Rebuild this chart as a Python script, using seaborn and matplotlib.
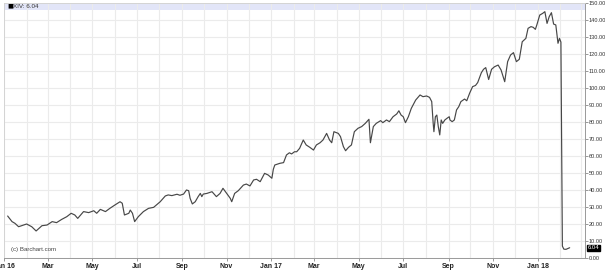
import numpy as np
import pandas as pd
import matplotlib
matplotlib.use("Agg")
import matplotlib.pyplot as plt
import matplotlib.dates as mdates
import matplotlib.ticker as mticker
import seaborn as sns

# ---- data ----
dates = [
    "2016-01-06", "2016-01-12", "2016-01-16", "2016-01-21", "2016-01-28", "2016-02-01",
    "2016-02-08", "2016-02-14", "2016-02-22", "2016-02-29", "2016-03-07", "2016-03-13",
    "2016-03-20", "2016-03-27", "2016-04-02", "2016-04-07", "2016-04-11", "2016-04-19",
    "2016-04-26", "2016-05-03", "2016-05-07", "2016-05-12", "2016-05-19", "2016-05-25",
    "2016-06-01", "2016-06-08", "2016-06-11", "2016-06-14", "2016-06-20", "2016-06-22",
    "2016-06-25", "2016-06-28", "2016-07-03", "2016-07-10", "2016-07-17", "2016-07-24",
    "2016-08-02", "2016-08-09", "2016-08-13", "2016-08-18", "2016-08-25", "2016-08-29",
    "2016-09-03", "2016-09-07", "2016-09-10", "2016-09-12", "2016-09-15", "2016-09-19",
    "2016-09-23", "2016-09-26", "2016-09-28", "2016-09-30", "2016-10-05", "2016-10-12",
    "2016-10-18", "2016-10-23", "2016-10-27", "2016-11-01", "2016-11-06", "2016-11-08",
    "2016-11-12", "2016-11-17", "2016-11-24", "2016-11-28", "2016-12-03", "2016-12-08",
    "2016-12-12", "2016-12-17", "2016-12-23", "2016-12-28", "2017-01-02", "2017-01-04",
    "2017-01-06", "2017-01-13", "2017-01-18", "2017-01-22", "2017-01-26", "2017-01-29",
    "2017-02-02", "2017-02-05", "2017-02-09", "2017-02-14", "2017-02-18", "2017-02-23",
    "2017-02-28", "2017-03-04", "2017-03-09", "2017-03-13", "2017-03-18", "2017-03-22",
    "2017-03-25", "2017-03-28", "2017-04-03", "2017-04-06", "2017-04-10", "2017-04-13",
    "2017-04-17", "2017-04-21", "2017-04-25", "2017-04-30", "2017-05-05", "2017-05-10",
    "2017-05-15", "2017-05-17", "2017-05-21", "2017-05-25", "2017-05-31", "2017-06-03",
    "2017-06-08", "2017-06-12", "2017-06-17", "2017-06-22", "2017-06-25", "2017-06-28",
    "2017-07-01", "2017-07-04", "2017-07-08", "2017-07-12", "2017-07-18", "2017-07-24",
    "2017-07-28", "2017-08-02", "2017-08-06", "2017-08-09", "2017-08-11", "2017-08-12",
    "2017-08-14", "2017-08-16", "2017-08-18", "2017-08-20", "2017-08-22", "2017-08-24",
    "2017-08-27", "2017-08-30", "2017-09-02", "2017-09-03", "2017-09-06", "2017-09-09",
    "2017-09-12", "2017-09-15", "2017-09-18", "2017-09-23", "2017-09-26", "2017-09-30",
    "2017-10-04", "2017-10-08", "2017-10-11", "2017-10-16", "2017-10-19", "2017-10-22",
    "2017-10-26", "2017-10-30", "2017-11-03", "2017-11-08", "2017-11-12", "2017-11-17",
    "2017-11-21", "2017-11-25", "2017-11-29", "2017-12-03", "2017-12-07", "2017-12-11",
    "2017-12-16", "2017-12-19", "2017-12-23", "2017-12-26", "2017-12-29", "2017-12-31",
    "2018-01-04", "2018-01-08", "2018-01-11", "2018-01-14", "2018-01-17", "2018-01-20",
    "2018-01-23", "2018-01-26", "2018-01-29", "2018-01-31", "2018-02-02", "2018-02-04",
    "2018-02-06", "2018-02-09", "2018-02-14",
]
xiv_close = [
    24.7, 21.4, 20.4, 18.4, 19.4, 20.0,
    18.4, 15.9, 19.0, 19.4, 21.4, 20.8,
    22.7, 24.3, 26.3, 25.3, 23.3, 27.3,
    26.7, 27.8, 26.3, 28.6, 27.3, 29.2,
    31.2, 33.1, 32.2, 25.3, 26.3, 28.2,
    26.3, 21.4, 24.3, 27.3, 29.2, 29.8,
    33.1, 36.5, 37.1, 36.7, 37.5, 36.9,
    37.6, 40.0, 39.6, 35.1, 31.8, 33.1,
    36.1, 38.0, 36.1, 37.6, 38.0, 39.0,
    36.1, 38.0, 41.0, 38.0, 35.1, 33.1,
    38.0, 39.6, 42.9, 43.5, 42.4, 45.9,
    46.3, 44.9, 49.8, 48.8, 46.9, 52.2,
    54.7, 55.7, 56.1, 60.6, 61.9, 61.2,
    62.5, 62.5, 64.5, 69.4, 66.5, 65.1,
    63.5, 66.5, 67.8, 69.4, 73.3, 69.4,
    67.8, 74.3, 73.3, 71.4, 65.5, 63.1,
    65.1, 66.5, 74.3, 76.3, 77.3, 79.2,
    81.6, 67.8, 77.3, 79.2, 80.8, 79.6,
    81.2, 80.2, 83.1, 84.7, 86.6, 84.1,
    83.1, 79.6, 83.1, 88.0, 92.9, 95.9,
    94.9, 95.3, 94.5, 92.0, 79.2, 74.3,
    83.1, 84.1, 77.3, 72.4, 81.2, 79.2,
    81.2, 82.2, 83.1, 81.2, 80.2, 81.2,
    87.1, 89.0, 92.0, 93.5, 92.5, 97.0,
    100.8, 101.5, 103.2, 109.0, 111.0, 112.0,
    105.0, 111.0, 112.5, 113.5, 110.6, 103.7,
    115.5, 119.4, 120.8, 115.5, 116.9, 127.2,
    129.2, 135.1, 136.1, 135.7, 134.5, 137.1,
    142.9, 143.9, 144.9, 138.0, 142.0, 144.3,
    137.6, 137.1, 126.3, 129.2, 127.0, 7.0,
    5.2, 5.1, 6.04,
]
y_ticks = [0, 10, 20, 30, 40, 50, 60, 70, 80, 90, 100, 110, 120, 130, 140, 150]
x_tick_dates = ["2016-01-01", "2016-03-01", "2016-05-01", "2016-07-01", "2016-09-01",
                "2016-11-01", "2017-01-01", "2017-03-01", "2017-05-01", "2017-07-01",
                "2017-09-01", "2017-11-01", "2018-01-01"]
x_tick_labels = ["Jan 16", "Mar", "May", "Jul", "Sep", "Nov", "Jan 17", "Mar", "May",
                 "Jul", "Sep", "Nov", "Jan 18"]
series_name = "XIV"
last_value = 6.04
credit = "(c) Barchart.com"

df = pd.DataFrame({"date": pd.to_datetime(dates), "value": xiv_close})

# ---- figure ----
sns.set_style("white")
plt.rcParams["font.family"] = ["Liberation Sans", "DejaVu Sans"]
fig = plt.figure(figsize=(6.05, 2.74), dpi=100)
ax = fig.add_axes([4 / 605, 16 / 274, 581 / 605, 255 / 274])

ax.axhspan(145.8, 150, color="#e2e5f8", zorder=0, lw=0)

sns.lineplot(data=df, x="date", y="value", ax=ax, color="#474747", linewidth=0.85, zorder=3)

ax.set_xlim(pd.Timestamp("2016-01-01"), pd.Timestamp("2018-03-07"))
ax.set_ylim(0, 150)
ax.set_xlabel("")
ax.set_ylabel("")

# grid
ax.xaxis.set_minor_locator(mdates.MonthLocator())
ax.set_xticks(pd.to_datetime(x_tick_dates))
ax.set_xticklabels(x_tick_labels)
ax.grid(True, which="both", axis="x", color="#ebebeb", linewidth=0.8, zorder=1)
ax.set_yticks(y_ticks)
ax.grid(True, which="major", axis="y", color="#ebebeb", linewidth=0.8, zorder=1)

ax.yaxis.tick_right()
ax.yaxis.set_major_formatter(mticker.FormatStrFormatter("%.2f"))
ax.tick_params(axis="y", which="major", direction="out", length=2, width=0.6,
               color="#888888", labelsize=4.1, labelcolor="#333333", pad=0.8, right=True, left=False)
ax.tick_params(axis="x", which="major", direction="out", length=2, width=0.6,
               color="#888888", labelsize=5.0, labelcolor="#222222", pad=1.5, bottom=True)
ax.tick_params(axis="x", which="minor", length=0)
for lab in ax.get_xticklabels():
    lab.set_fontweight("bold")

for s in ["top", "left"]:
    ax.spines[s].set_color("#d0d0d0")
    ax.spines[s].set_linewidth(0.6)
for s in ["bottom", "right"]:
    ax.spines[s].set_color("#999999")
    ax.spines[s].set_linewidth(0.7)

# legend bar text
ax.text(0.005, 148.0, "\u25a0", fontsize=4.5, color="black", va="center", ha="left",
        family="DejaVu Sans", transform=ax.get_yaxis_transform())
ax.text(0.0155, 148.0, f"{series_name}: {last_value:.2f}", fontsize=4.5, color="#333333",
        va="center", ha="left", transform=ax.get_yaxis_transform())

# credit
ax.text(0.0125, 5.0, credit, fontsize=4.4, color="#444444", va="center", ha="left",
        transform=ax.get_yaxis_transform())

# last-value box on the right axis
ax.text(1.004, last_value, f"{last_value:.2f}", fontsize=4.3, color="white", va="center",
        ha="left", transform=ax.get_yaxis_transform(),
        bbox=dict(boxstyle="square,pad=0.12", fc="black", ec="black"), zorder=5, clip_on=False)

fig.savefig("out.png", dpi=100)
